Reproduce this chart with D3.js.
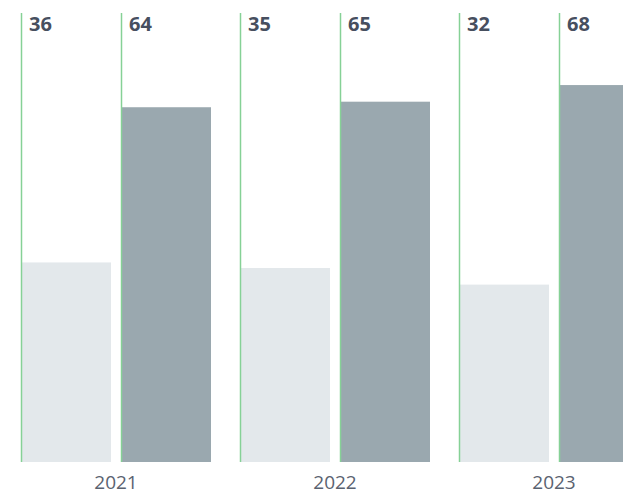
<!DOCTYPE html>
<html>
<head>
<meta charset="utf-8">
<script src="https://cdn.jsdelivr.net/npm/d3@7"></script>
<style>
  html, body { margin: 0; padding: 0; background: #fff; overflow: hidden; }
</style>
</head>
<body>
<div id="container"></div>
<script>
const years = ["2021", "2022", "2023"];
const keys = ["first", "second"];
const firstValues = [36, 35, 32];
const secondValues = [64, 65, 68];

const width = 623, height = 495;
const margin = ({top: 13, right: 0, bottom: 33, left: 21});
const color = d3.scaleOrdinal().domain(keys).range(["#e3e8eb", "#9aa8af"]);

const data = years.map((y, i) => ({year: y, first: firstValues[i], second: secondValues[i]}));

const svg = d3.select("#container").append("svg")
    .attr("width", width)
    .attr("height", height)
    .attr("font-family", "'Open Sans', sans-serif");

// groups continue past the right edge like in the original
const x0 = d3.scaleBand()
    .domain(years)
    .range([margin.left, margin.left + 219 * 3 - 29])
    .paddingInner(29 / 219)
    .paddingOuter(0);
const x1 = d3.scaleBand()
    .domain(keys)
    .range([0, x0.bandwidth()])
    .paddingInner(0.1);
const y = d3.scaleLinear()
    .domain([0, 81])
    .range([height - margin.bottom, margin.top]);

const group = svg.append("g")
    .selectAll("g")
    .data(data)
    .join("g")
    .attr("transform", d => `translate(${x0(d.year)},0)`);

const cells = group.selectAll("g")
    .data(d => keys.map(k => ({key: k, value: d[k]})))
    .join("g")
    .attr("transform", d => `translate(${x1(d.key)},0)`);

cells.append("rect")
    .attr("x", 0)
    .attr("y", d => y(d.value))
    .attr("width", x1.bandwidth())
    .attr("height", d => y(0) - y(d.value))
    .attr("fill", d => color(d.key));

// green marker line on the left side of every bar
cells.append("line")
    .attr("x1", 0.5).attr("x2", 0.5)
    .attr("y1", y.range()[1])
    .attr("y2", y(0))
    .attr("stroke", "#86d196")
    .attr("stroke-width", 1.5);

cells.append("text")
    .attr("x", 8)
    .attr("y", 31)
    .attr("font-size", 20)
    .attr("font-weight", 700)
    .attr("fill", "#474f5f")
    .text(d => d.value);

// year labels
const xAxis = g => g
    .attr("transform", `translate(0,${height - margin.bottom})`)
    .call(d3.axisBottom(x0).tickSize(0).tickPadding(14))
    .call(g => g.select(".domain").remove())
    .call(g => g.selectAll("text")
        .attr("font-family", "'Open Sans', sans-serif")
        .attr("font-size", 19)
        .attr("fill", "#5a6270"));
svg.append("g").call(xAxis);
</script>
</body>
</html>
